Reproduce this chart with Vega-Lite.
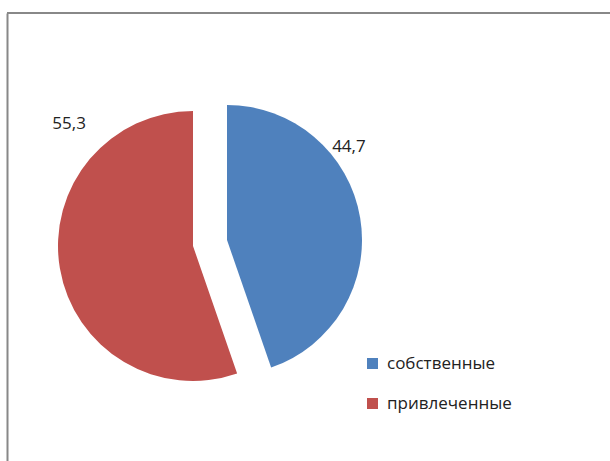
{
  "$schema": "https://vega.github.io/schema/vega-lite/v6.json",
  "width": 603,
  "height": 448,
  "autosize": "none",
  "padding": {"left": 7, "top": 13, "right": 0, "bottom": 0},
  "background": "white",
  "view": {"stroke": "#888888", "strokeWidth": 2, "strokeDash": [603, 3000]},
  "config": {
    "locale": {"number": {"decimal": ",", "thousands": " ", "grouping": [3], "currency": ["", " ₽"]}},
    "font": "Open Sans"
  },
  "data": {
    "values": [
      {"category": "собственные", "value": 44.7, "order": 1},
      {"category": "привлеченные", "value": 55.3, "order": 2}
    ]
  },
  "transform": [
    {"stack": "value", "groupby": [], "sort": [{"field": "order", "order": "ascending"}], "as": ["v0", "v1"]},
    {"calculate": "(datum.v0 + datum.v1) / 2", "as": "mid"}
  ],
  "layer": [
    {
      "mark": {"type": "point", "opacity": 0},
      "encoding": {
        "y": {
          "field": "value", "type": "quantitative",
          "axis": {"domain": true, "domainColor": "#888888", "domainWidth": 2, "ticks": false, "labels": false, "grid": false, "title": null}
        }
      }
    },
    {
      "transform": [{"filter": "datum.category === 'собственные'"}],
      "mark": {"type": "arc", "outerRadius": 135, "xOffset": -81.5, "yOffset": 3},
      "encoding": {
        "theta": {"field": "v0", "type": "quantitative", "scale": {"type": "linear", "domain": [0, 100], "range": [0, 6.283185307179586]}},
        "theta2": {"field": "v1"},
        "color": {
          "field": "category", "type": "nominal",
          "scale": {"domain": ["собственные", "привлеченные"], "range": ["#4F81BD", "#C0504D"]},
          "legend": {
            "title": null, "orient": "none", "legendX": 357, "legendY": 342,
            "symbolType": "square", "symbolSize": 121, "symbolStrokeWidth": 0,
            "labelFontSize": 17, "labelFont": "Open Sans", "labelColor": "#222222",
            "labelOffset": 6, "rowPadding": 22, "labelLimit": 300
          }
        }
      }
    },
    {
      "transform": [{"filter": "datum.category === 'привлеченные'"}],
      "mark": {"type": "arc", "outerRadius": 135, "xOffset": -115.5, "yOffset": 9},
      "encoding": {
        "theta": {"field": "v0", "type": "quantitative"},
        "theta2": {"field": "v1"},
        "color": {"field": "category", "type": "nominal"}
      }
    },
    {
      "transform": [{"filter": "datum.category === 'собственные'"}],
      "mark": {"type": "text", "radius": 150, "xOffset": -81.5, "yOffset": 3, "dx": -26, "dy": -68, "fontSize": 17, "font": "Open Sans", "color": "#222222", "align": "center", "baseline": "middle"},
      "encoding": {
        "theta": {"field": "mid", "type": "quantitative", "stack": null},
        "text": {"field": "value", "type": "quantitative", "format": ".1f"}
      }
    },
    {
      "transform": [{"filter": "datum.category === 'привлеченные'"}],
      "mark": {"type": "text", "radius": 150, "xOffset": -115.5, "yOffset": 9, "dx": 24, "dy": -147, "fontSize": 17, "font": "Open Sans", "color": "#222222", "align": "center", "baseline": "middle"},
      "encoding": {
        "theta": {"field": "mid", "type": "quantitative", "stack": null},
        "text": {"field": "value", "type": "quantitative", "format": ".1f"}
      }
    }
  ]
}
